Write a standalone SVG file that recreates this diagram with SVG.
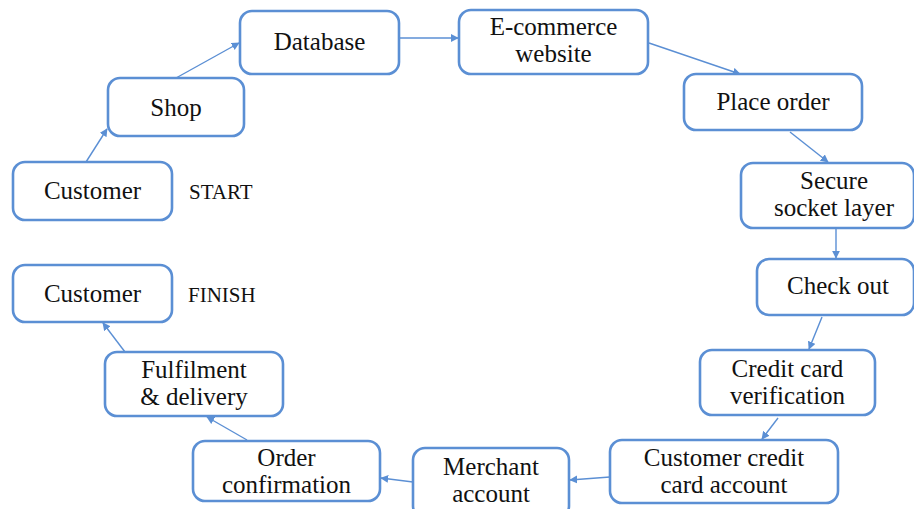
<svg xmlns="http://www.w3.org/2000/svg" width="914" height="509" viewBox="0 0 914 509">
<style>
.box{fill:#fff;stroke:#5b8fd4;stroke-width:2.6}
.t{font-family:'Liberation Serif','DejaVu Serif',serif;font-size:25px;fill:#111;text-anchor:middle}
.lbl{font-family:'Liberation Serif','DejaVu Serif',serif;font-size:21px;fill:#111}
.c{stroke:#5b8fd4;stroke-width:1.4;fill:none;marker-end:url(#ah)}
</style>
<defs>
<marker id="ah" viewBox="0 0 10 10" refX="9" refY="5" markerWidth="8" markerHeight="8" markerUnits="userSpaceOnUse" orient="auto">
<path d="M0,0 L10,5 L0,10 z" fill="#5b8fd4"/>
</marker>
</defs>
<rect width="914" height="509" fill="#fff"/>
<g id="connectors">
<line class="c" x1="86" y1="162" x2="107" y2="129"/>
<line class="c" x1="176" y1="78" x2="239" y2="43"/>
<line class="c" x1="399" y1="38" x2="458" y2="38"/>
<line class="c" x1="649" y1="43" x2="740" y2="74"/>
<line class="c" x1="790" y1="132" x2="828" y2="162"/>
<line class="c" x1="836" y1="228" x2="836" y2="258"/>
<line class="c" x1="822" y1="317" x2="809" y2="349"/>
<line class="c" x1="778" y1="418" x2="762" y2="439"/>
<line class="c" x1="610" y1="477" x2="570" y2="480"/>
<line class="c" x1="413" y1="482" x2="381" y2="478"/>
<line class="c" x1="247" y1="440" x2="207" y2="417"/>
<line class="c" x1="125" y1="352" x2="103" y2="323"/>
</g>
<g id="customer-start">
<rect class="box" x="13" y="162" width="159" height="58" rx="12"/>
<text class="t" x="92.5" y="199">Customer</text>
</g>
<text class="lbl" x="189" y="199">START</text>
<g id="shop">
<rect class="box" x="108" y="78" width="136" height="58" rx="12"/>
<text class="t" x="176" y="116">Shop</text>
</g>
<g id="database">
<rect class="box" x="240" y="11" width="159" height="63" rx="12"/>
<text class="t" x="319.5" y="50">Database</text>
</g>
<g id="ecommerce">
<rect class="box" x="459" y="10" width="189" height="64" rx="12"/>
<text class="t" x="553.5" y="35">E-commerce</text>
<text class="t" x="553.5" y="62">website</text>
</g>
<g id="place-order">
<rect class="box" x="684" y="74" width="178" height="56" rx="12"/>
<text class="t" x="773" y="110">Place order</text>
</g>
<g id="ssl">
<rect class="box" x="741" y="163" width="173" height="65" rx="12"/>
<text class="t" x="834" y="189">Secure</text>
<text class="t" x="834" y="216">socket layer</text>
</g>
<g id="check-out">
<rect class="box" x="757" y="259" width="157" height="56" rx="12"/>
<text class="t" x="838" y="294">Check out</text>
</g>
<g id="credit-card-verification">
<rect class="box" x="700" y="350" width="175" height="65" rx="12"/>
<text class="t" x="787.5" y="377">Credit card</text>
<text class="t" x="787.5" y="404">verification</text>
</g>
<g id="customer-credit-card-account">
<rect class="box" x="610" y="440" width="228" height="63" rx="12"/>
<text class="t" x="724" y="466">Customer credit</text>
<text class="t" x="724" y="493">card account</text>
</g>
<g id="merchant-account">
<rect class="box" x="413" y="448" width="156" height="70" rx="12"/>
<text class="t" x="491" y="475">Merchant</text>
<text class="t" x="491" y="502">account</text>
</g>
<g id="order-confirmation">
<rect class="box" x="193" y="441" width="187" height="60" rx="12"/>
<text class="t" x="286.5" y="466">Order</text>
<text class="t" x="286.5" y="493">confirmation</text>
</g>
<g id="fulfilment">
<rect class="box" x="105" y="352" width="178" height="64" rx="12"/>
<text class="t" x="194" y="378">Fulfilment</text>
<text class="t" x="194" y="405">&amp; delivery</text>
</g>
<g id="customer-finish">
<rect class="box" x="13" y="265" width="159" height="57" rx="12"/>
<text class="t" x="92.5" y="302">Customer</text>
</g>
<text class="lbl" x="188" y="302">FINISH</text>
</svg>
